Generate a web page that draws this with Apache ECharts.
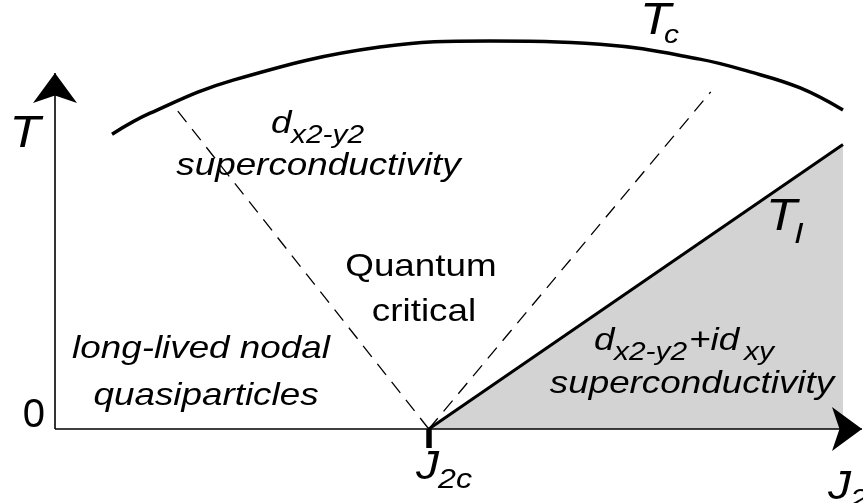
<!DOCTYPE html>
<html><head><meta charset="utf-8">
<script src="https://cdn.jsdelivr.net/npm/echarts@6/dist/echarts.min.js"></script>
<style>html,body{margin:0;padding:0;background:#fff}#c{width:863px;height:503px}</style>
</head><body><div id="c"></div>
<script>
// ---- data (schematic units: J2 axis 0..101.9, T axis 0..115) ----
const j2c = 47.2;                       // quantum critical coupling J2c
const tcJ2 = [7.2, 12.0, 22.5, 41.0, 54.9, 68.8, 81.4, 87.8, 94.1, 99.5];   // Tc curve
const tcT  = [82.9, 88.8, 98.1, 107.4, 109.1, 108.2, 104.0, 100.4, 95.9, 89.7];
const tiJ2 = [j2c, 99.5];               // T_I line (edge of d+id region)
const tiT  = [0, 80];
const crossLJ2 = [j2c, 15.0], crossLT = [0, 90.8];   // left crossover (dashed)
const crossRJ2 = [j2c, 82.8], crossRT = [0, 94.8];   // right crossover (dashed)
const yTickValues = [0];
const yTickLabels = ['0'];
const xMax = 101.9, yMax = 115, yArrowEnd = 100.1, xArrowEnd = 101.9;

// ---- text annotations (anchor in data units, parts offset in px) ----
const labels = [
  {at:[-3.79, 78.45], align:'center', parts:[{text:'T', size:44, italic:true}]},
  {at:[73.86, 110.22], parts:[{text:'T', size:44, italic:true},{text:'c', size:26, italic:true, dx:24, dy:8}]},
  {at:[89.77, 55.11], parts:[{text:'T', size:44, italic:true},{text:'I', size:30, italic:true, dx:28, dy:12}]},
  {at:[27.27, 82.67], parts:[{text:'d', size:32, italic:true},{text:'x2-y2', size:26, italic:true, dx:20, dy:10}]},
  {at:[33.27, 70.86], align:'center', parts:[{text:'superconductivity', size:32, italic:true}]},
  {at:[46.21, 42.46], align:'center', parts:[{text:'Quantum', size:32}]},
  {at:[46.59, 29.80], align:'center', parts:[{text:'critical', size:32}]},
  {at:[18.43, 19.40], align:'center', parts:[{text:'long-lived nodal', size:32, italic:true}]},
  {at:[19.07, 6.19], align:'center', parts:[{text:'quasiparticles', size:32, italic:true}]},
  {at:[68.06, 21.65], parts:[{text:'d', size:32, italic:true},{text:'x2-y2', size:26, italic:true, dx:20, dy:10},
                             {text:'+id', size:32, italic:true, dx:95},{text:'xy', size:26, italic:true, dx:150, dy:10}]},
  {at:[80.43, 9.56], align:'center', parts:[{text:'superconductivity', size:32, italic:true}]},
  {at:[45.58, -14.9], parts:[{text:'J', size:40, italic:true},{text:'2c', size:28, italic:true, dx:22, dy:8}]},
  {at:[97.6, -20.5], parts:[{text:'J', size:40, italic:true},{text:'2', size:28, italic:true, dx:22, dy:8}]}
];

const FONT = '"Liberation Sans", Arial, sans-serif';
const S = 1.15;
const pair = (a, b) => a.map((v, i) => [v, b[i]]);

const chart = echarts.init(document.getElementById('c'));
chart.setOption({
  animation: false,
  grid: {left: 55, right: 1, top: 20, bottom: 74},
  xAxis: {type: 'value', min: 0, max: xMax, axisLine: {show: false}, splitLine: {show: false},
    axisLabel: {show: false},
    axisTick: {show: true, customValues: [j2c], length: 19, lineStyle: {color: '#000', width: 5.5}}},
  yAxis: {type: 'value', min: 0, max: yMax, axisLine: {show: false}, splitLine: {show: false},
    axisTick: {show: false},
    axisLabel: {customValues: yTickValues, formatter: v => yTickLabels[yTickValues.indexOf(v)] || '',
      fontSize: 40, fontFamily: FONT, color: '#000', margin: 10, verticalAlign: 'bottom', lineHeight: 26}},
  series: [
    {type: 'line', name: 'TI', data: pair(tiJ2, tiT), symbol: 'none', z: 2,
      lineStyle: {color: '#000', width: 3}, areaStyle: {color: '#d3d3d3', opacity: 1}},
    {type: 'line', name: 'Tc', data: pair(tcJ2, tcT), symbol: 'none', smooth: 0.4, z: 3,
      lineStyle: {color: '#000', width: 3.5}},
    {type: 'line', name: 'crossL', data: pair(crossLJ2, crossLT), symbol: 'none', z: 3,
      lineStyle: {color: '#000', width: 1.3, type: [14, 9]}},
    {type: 'line', name: 'crossR', data: pair(crossRJ2, crossRT), symbol: 'none', z: 3,
      lineStyle: {color: '#000', width: 1.3, type: [14, 9]}},
    {type: 'line', name: 'axes', data: [[0, 0]], symbol: 'none', z: 5, clip: false,
      markLine: {silent: true, animation: false, symbol: ['none', 'arrow'], symbolSize: [33, 30],
        label: {show: false}, lineStyle: {color: '#000', width: 1.6, type: 'solid'},
        emphasis: {disabled: true},
        data: [[{coord: [0, 0]}, {coord: [0, yArrowEnd]}], [{coord: [0, 0]}, {coord: [xArrowEnd, 0]}]]}}
  ]
});

const els = [];
labels.forEach(l => {
  const p = chart.convertToPixel({gridIndex: 0}, l.at);
  l.parts.forEach(pt => {
    els.push({type: 'text', x: p[0] + (pt.dx || 0), y: p[1] + (pt.dy || 0) - 0.3465 * pt.size,
      scaleX: S, silent: true, z: 100,
      style: {text: pt.text, fontSize: pt.size, fontFamily: FONT, fontStyle: pt.italic ? 'italic' : 'normal',
        fill: '#000', align: l.align || 'left', verticalAlign: 'middle'}});
  });
});
chart.setOption({graphic: {elements: els}});
</script></body></html>
